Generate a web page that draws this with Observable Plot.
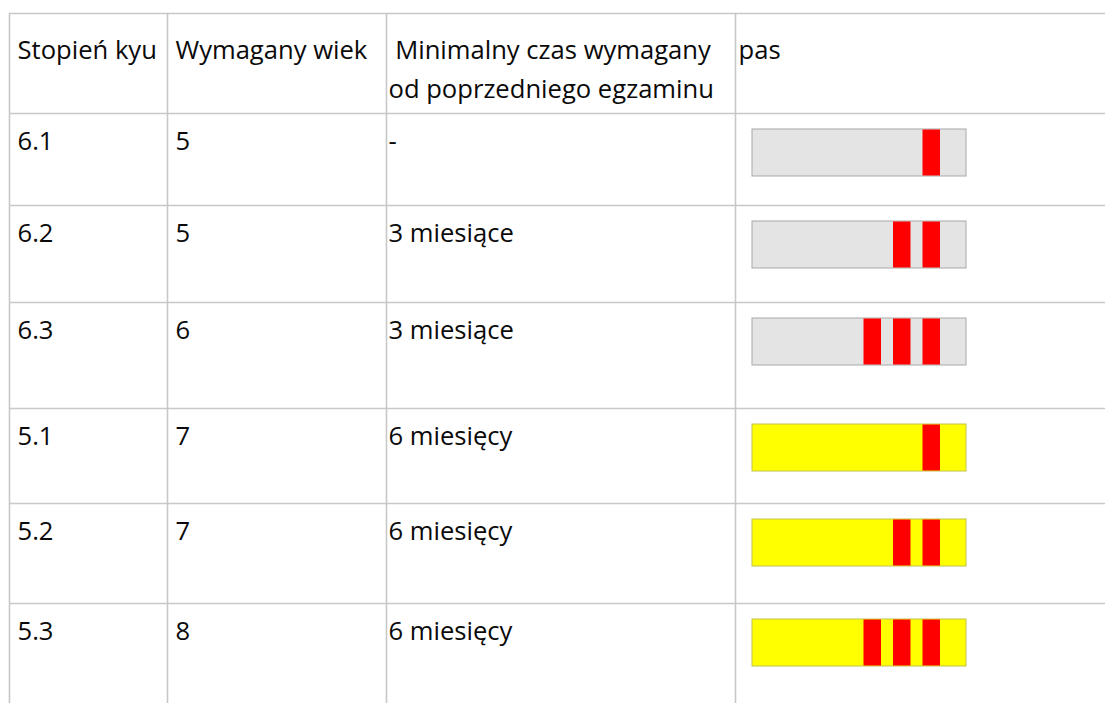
<!DOCTYPE html>
<html>
<head>
<meta charset="utf-8">
<script src="https://cdn.jsdelivr.net/npm/d3@7"></script>
<script src="https://cdn.jsdelivr.net/npm/@observablehq/plot@0.6"></script>
<style>
  html, body { margin: 0; padding: 0; background: #ffffff; }
  #chart svg { display: block; }
</style>
</head>
<body>
<div id="chart"></div>
<script>
// ---- data ----
const headers = ["Stopień kyu", "Wymagany wiek", "\u00a0Minimalny czas wymagany\nod poprzedniego egzaminu", "pas"];
const kyu = ["6.1", "6.2", "6.3", "5.1", "5.2", "5.3"];
const age = ["5", "5", "6", "7", "7", "8"];
const minTime = ["-", "3 miesiące", "3 miesiące", "6 miesięcy", "6 miesięcy", "6 miesięcy"];
const beltColor = ["szary", "szary", "szary", "żółty", "żółty", "żółty"];
const stripes = [1, 2, 3, 1, 2, 3];

// ---- layout & style (not data) ----
const layout = {
  colEdges: [9, 167, 386, 735, 1105],
  rowEdges: [13, 113, 205, 302, 408, 503, 603, 703],
  padX: [8, 8, 2, 3],
  headerDy: 18,
  bodyDy: 18.5,
  fontSize: 25.6,
  lineHeightPx: 39,
  belt: { left: 17, length: 214, top: 16, height: 47, stripeW: 17.5, pitch: 29.5, endGap: 26 }
};
const style = {
  grid: "#c8c8c8",
  text: "#0a0a0a",
  fill: { "szary": "#e4e4e4", "żółty": "#ffff00" },
  stroke: { "szary": "#a8a8a8", "żółty": "#c2c24a" },
  stripe: "#ff0000"
};

const L = layout;
const colW = c => L.colEdges[c + 1] - L.colEdges[c];
const rowH = r => L.rowEdges[r + 1] - L.rowEdges[r];
const xu = (col, px) => col + px / colW(col);
const yu = (row, px) => row + px / rowH(row);

const rows = kyu.map((k, i) => ({
  row: i + 1, kyu: k, age: age[i], time: minTime[i], color: beltColor[i], n: stripes[i]
}));
const stripeData = rows.flatMap(r => d3.range(r.n).map(k => ({ row: r.row, k, n: r.n })));

const B = L.belt;
const beltCol = 3;
const stripeStart = d => B.left + B.length - B.endGap - B.stripeW - (d.n - 1 - d.k) * B.pitch;

const headerData = headers.map((h, i) => ({ col: i, text: h }));

const textOpts = {
  textAnchor: "start",
  lineAnchor: "top",
  fontSize: L.fontSize,
  fill: style.text
};

const chart = Plot.plot({
  width: 1105,
  height: 703,
  marginTop: 0, marginRight: 0, marginBottom: 0, marginLeft: 0,
  style: { fontFamily: "'Open Sans', sans-serif", background: "#ffffff" },
  x: { type: "linear", domain: d3.range(L.colEdges.length), range: L.colEdges, axis: null },
  y: { type: "linear", domain: d3.range(L.rowEdges.length), range: L.rowEdges, axis: null },
  marks: [
    // table grid
    Plot.ruleY(d3.range(0, L.rowEdges.length - 1), {
      y: d => d, x1: () => 0, x2: () => L.colEdges.length - 1,
      stroke: style.grid, strokeWidth: 1.6
    }),
    Plot.ruleX(d3.range(0, L.colEdges.length - 1), {
      x: d => d, y1: () => 0, y2: () => L.rowEdges.length - 1,
      stroke: style.grid, strokeWidth: 1.6
    }),
    // header
    ...headerData.map(h => Plot.text([h], {
      ...textOpts, x: d => d.col, y: () => 0, text: d => d.text,
      dx: L.padX[h.col], dy: L.headerDy, lineHeight: L.lineHeightPx / L.fontSize
    })),
    // body columns
    Plot.text(rows, { ...textOpts, x: () => 0, y: d => d.row, text: d => d.kyu, dx: L.padX[0], dy: L.bodyDy }),
    Plot.text(rows, { ...textOpts, x: () => 1, y: d => d.row, text: d => d.age, dx: L.padX[1], dy: L.bodyDy }),
    Plot.text(rows, { ...textOpts, x: () => 2, y: d => d.row, text: d => d.time, dx: L.padX[2], dy: L.bodyDy }),
    // belts
    Plot.rect(rows, {
      x1: () => xu(beltCol, B.left), x2: () => xu(beltCol, B.left + B.length),
      y1: d => yu(d.row, B.top), y2: d => yu(d.row, B.top + B.height),
      fill: d => style.fill[d.color], stroke: d => style.stroke[d.color], strokeWidth: 1
    }),
    Plot.rect(stripeData, {
      x1: d => xu(beltCol, stripeStart(d)), x2: d => xu(beltCol, stripeStart(d) + B.stripeW),
      y1: d => yu(d.row, B.top + 0.5), y2: d => yu(d.row, B.top + B.height - 0.5),
      fill: style.stripe
    })
  ]
});

document.getElementById("chart").appendChild(chart);
</script>
</body>
</html>
